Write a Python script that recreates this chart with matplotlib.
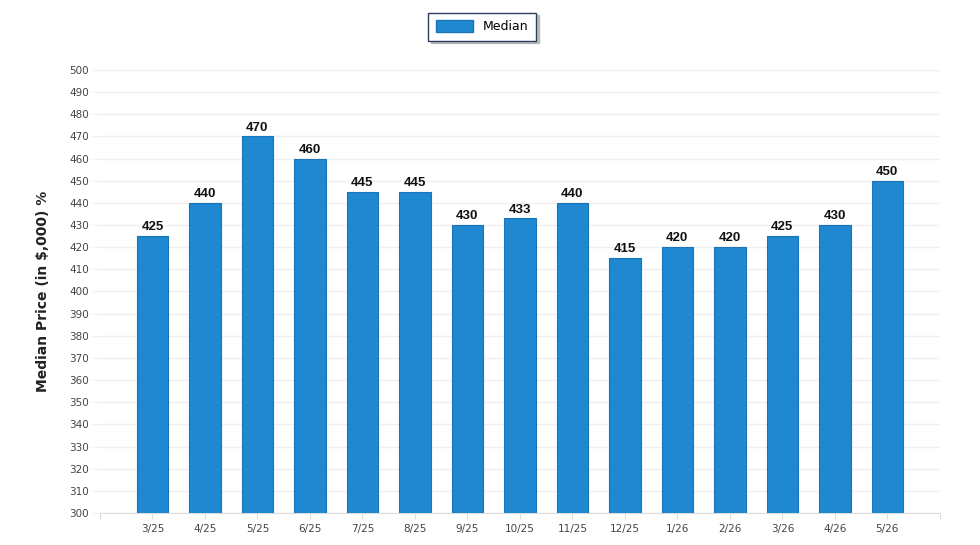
import matplotlib.pyplot as plt
from matplotlib.patches import Patch

months = ['3/25', '4/25', '5/25', '6/25', '7/25', '8/25', '9/25', '10/25',
          '11/25', '12/25', '1/26', '2/26', '3/26', '4/26', '5/26']
median = [425, 440, 470, 460, 445, 445, 430, 433, 440, 415, 420, 420, 425, 430, 450]

bar_color = '#1f88d0'
edge_color = '#1a74b8'
grid_color = '#efefef'

fig = plt.figure(figsize=(9.8, 5.45), dpi=100)
ax = fig.add_axes([0.102, 0.0587, 0.857, 0.8129])

x = list(range(len(months)))
bars = ax.bar(x, median, width=0.6, color=bar_color, edgecolor=edge_color,
              linewidth=0.8, zorder=3)

# value labels above each bar
for xi, v in zip(x, median):
    ax.text(xi, v + 1.3, str(v), ha='center', va='bottom', fontsize=9.5,
            fontweight='bold', family='Liberation Sans', color='#111111', zorder=4)

ax.set_xlim(-1, 15)
ax.set_ylim(300, 500)
ax.set_yticks(range(300, 501, 10))
ax.set_xticks([-1] + x + [15])
ax.set_xticklabels([''] + months + [''])
ax.tick_params(axis='x', length=4, color='#dddddd', labelsize=7.5,
               labelcolor='#444444', pad=4)
ax.tick_params(axis='y', length=6, color='#efefef', labelsize=7.5,
               labelcolor='#444444', pad=2)
ax.grid(axis='y', color=grid_color, linewidth=1, zorder=0)

for side in ['top', 'right', 'left']:
    ax.spines[side].set_visible(False)
ax.spines['bottom'].set_color('#dddddd')

ax.set_ylabel('Median Price (in $,000) %', fontsize=10, fontweight='bold',
              color='#222222')
ax.yaxis.set_label_coords(-0.060, 0.50)

handle = Patch(facecolor=bar_color, edgecolor=edge_color)
leg = fig.legend(handles=[handle], labels=['Median'], loc='center',
                 bbox_to_anchor=(0.492, 0.951), fontsize=9, frameon=True,
                 fancybox=False, handlelength=3.0,
                 handleheight=1.0, borderpad=0.6,
                 shadow={'color': '#999999', 'alpha': 0.6, 'ox': 2, 'oy': -2})
leg.get_frame().set_edgecolor('#2e3d5c')
leg.get_frame().set_linewidth(1.0)

fig.savefig('out.png', dpi=100)
